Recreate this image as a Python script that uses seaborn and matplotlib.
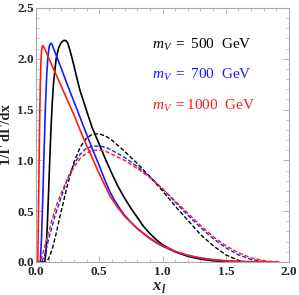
"""Lepton energy spectrum 1/Γ dΓ/dx for three vector masses."""

import matplotlib
matplotlib.use("Agg")
import matplotlib.pyplot as plt
import numpy as np
import pandas as pd
import seaborn as sns
from matplotlib.ticker import MultipleLocator

# solid curves
x_solid_500 = [0.0, 0.07, 0.08, 0.09, 0.10, 0.11, 0.12, 0.13, 0.14, 0.16, 0.18, 0.20, 0.22, 0.235,
               0.25, 0.27, 0.295, 0.32, 0.348, 0.40, 0.445, 0.50, 0.55, 0.60, 0.65, 0.70, 0.75,
               0.80, 0.85, 0.90, 0.95, 1.00, 1.10, 1.20, 1.30, 1.40, 1.50, 1.60, 1.65]
y_solid_500 = [0.0, 0.0, 0.10, 0.35, 0.68, 1.02, 1.33, 1.58, 1.77, 2.00, 2.11, 2.16, 2.18, 2.18,
               2.16, 2.08, 1.96, 1.83, 1.69, 1.49, 1.32, 1.16, 1.01, 0.87, 0.74, 0.63, 0.53,
               0.44, 0.35, 0.28, 0.22, 0.17, 0.10, 0.055, 0.028, 0.012, 0.004, 0.001, 0.0]

x_solid_700 = [0.0, 0.035, 0.045, 0.055, 0.065, 0.075, 0.085, 0.095, 0.105, 0.115, 0.125, 0.14,
               0.19, 0.25, 0.30, 0.35, 0.387, 0.45, 0.50, 0.55, 0.585, 0.62, 0.66, 0.70, 0.75,
               0.80, 0.85, 0.90, 0.95, 1.00, 1.10, 1.20, 1.30, 1.40, 1.50, 1.60, 1.70, 1.80]
y_solid_700 = [0.0, 0.0, 0.25, 0.65, 1.10, 1.52, 1.83, 2.02, 2.12, 2.15, 2.15, 2.10,
               1.94, 1.74, 1.58, 1.42, 1.30, 1.10, 0.95, 0.79, 0.69, 0.61, 0.53, 0.46, 0.39,
               0.33, 0.28, 0.23, 0.19, 0.155, 0.10, 0.062, 0.036, 0.019, 0.009, 0.004, 0.001, 0.0]

x_solid_1000 = [0.0, 0.015, 0.02, 0.025, 0.03, 0.035, 0.04, 0.045, 0.05, 0.055, 0.065, 0.10,
                0.15, 0.19, 0.25, 0.30, 0.348, 0.40, 0.45, 0.50, 0.55, 0.585, 0.638, 0.70,
                0.75, 0.80, 0.85, 0.90, 0.95, 1.00, 1.10, 1.20, 1.30, 1.40, 1.50, 1.60, 1.70,
                1.80, 1.92]
y_solid_1000 = [0.0, 0.0, 0.45, 0.95, 1.40, 1.75, 1.97, 2.08, 2.12, 2.13, 2.11, 2.01,
                1.87, 1.76, 1.59, 1.45, 1.30, 1.15, 1.01, 0.87, 0.74, 0.65, 0.55, 0.45,
                0.39, 0.33, 0.28, 0.235, 0.195, 0.16, 0.105, 0.066, 0.040, 0.023, 0.012, 0.006,
                0.002, 0.0005, 0.0]

# dashed curves
x_dash_500 = [0.0, 0.08, 0.10, 0.13, 0.16, 0.20, 0.25, 0.30, 0.35, 0.40, 0.45, 0.50, 0.55,
              0.60, 0.70, 0.80, 0.90, 1.00, 1.10, 1.20, 1.30, 1.40, 1.50, 1.60, 1.65]
y_dash_500 = [0.0, 0.0, 0.03, 0.13, 0.28, 0.50, 0.76, 0.98, 1.13, 1.22, 1.26, 1.26, 1.24,
              1.20, 1.09, 0.97, 0.84, 0.70, 0.55, 0.41, 0.27, 0.16, 0.07, 0.015, 0.0]

x_dash_700 = [0.0, 0.045, 0.07, 0.10, 0.15, 0.20, 0.25, 0.30, 0.35, 0.40, 0.45, 0.50, 0.55,
              0.60, 0.70, 0.80, 0.90, 1.00, 1.10, 1.20, 1.30, 1.40, 1.50, 1.60, 1.70, 1.80, 1.85]
y_dash_700 = [0.0, 0.0, 0.07, 0.22, 0.45, 0.64, 0.82, 0.96, 1.06, 1.12, 1.14, 1.14, 1.13,
              1.10, 1.03, 0.94, 0.84, 0.72, 0.59, 0.46, 0.34, 0.23, 0.14, 0.07, 0.025, 0.005, 0.0]

x_dash_1000 = [0.0, 0.03, 0.05, 0.08, 0.12, 0.16, 0.20, 0.25, 0.30, 0.35, 0.40, 0.45, 0.50,
               0.55, 0.60, 0.70, 0.80, 0.90, 1.00, 1.10, 1.20, 1.30, 1.40, 1.50, 1.60, 1.70,
               1.80, 1.90]
y_dash_1000 = [0.0, 0.0, 0.06, 0.20, 0.38, 0.55, 0.68, 0.82, 0.93, 1.02, 1.07, 1.10, 1.10,
               1.09, 1.06, 1.00, 0.92, 0.83, 0.72, 0.60, 0.48, 0.36, 0.25, 0.16, 0.09, 0.04,
               0.012, 0.0]

masses = ["500", "700", "1000"]
colors = {"500": "black", "700": "#1a1aff", "1000": "#ff1a1a"}

solid = {"500": (x_solid_500, y_solid_500), "700": (x_solid_700, y_solid_700),
         "1000": (x_solid_1000, y_solid_1000)}
dashed = {"500": (x_dash_500, y_dash_500), "700": (x_dash_700, y_dash_700),
          "1000": (x_dash_1000, y_dash_1000)}

sns.set_style("ticks")
plt.rcParams["font.family"] = ["Liberation Serif", "DejaVu Serif"]
plt.rcParams["mathtext.fontset"] = "custom"
plt.rcParams["mathtext.rm"] = "Liberation Serif"
plt.rcParams["mathtext.it"] = "Liberation Serif:italic"
plt.rcParams["mathtext.bf"] = "Liberation Serif:bold"

fig = plt.figure(figsize=(2.99, 2.95), dpi=100)
ax = fig.add_axes([0.120, 0.112, 0.847, 0.861])

for m in masses:
    xs, ys = solid[m]
    sns.lineplot(x=xs, y=ys, ax=ax, color=colors[m], lw=1.2, sort=False,
                 estimator=None)
    xd, yd = dashed[m]
    sns.lineplot(x=xd, y=yd, ax=ax, color=colors[m], lw=1.0, sort=False,
                 estimator=None, linestyle=(0, (3, 1.5)))

ax.set_xlim(0, 2.0)
ax.set_ylim(0, 2.5)
ax.xaxis.set_major_locator(MultipleLocator(0.5))
ax.xaxis.set_minor_locator(MultipleLocator(0.1))
ax.yaxis.set_major_locator(MultipleLocator(0.5))
ax.yaxis.set_minor_locator(MultipleLocator(0.1))
ax.tick_params(which="both", direction="in", top=True, right=True, color="#aaaaaa",
               labelsize=9.5)
ax.tick_params(axis="x", pad=3)
ax.tick_params(axis="y", pad=1.5)
ax.tick_params(which="major", length=4, width=0.6)
ax.tick_params(which="minor", length=2, width=0.5)
for lab in ax.get_xticklabels() + ax.get_yticklabels():
    lab.set_fontweight("bold")
for s in ax.spines.values():
    s.set_color("#aaaaaa")
    s.set_linewidth(0.8)

# x_l label: bold italic x with a smaller bold italic subscript l
ax.set_xlabel("")
fig.text(0.538, 0.017, "x", fontsize=12, fontweight="bold", fontstyle="italic",
         ha="right", va="baseline")
fig.text(0.540, 0.006, "l", fontsize=8.5, fontweight="bold", fontstyle="italic",
         ha="left", va="baseline")
ax.set_ylabel("1/Γ dΓ/dx", fontsize=10.5, fontweight="bold", labelpad=3)

for i, m in enumerate(masses):
    gap = r"$=$ " if m != "1000" else r"$=$"
    ax.text(0.915, 2.10 - i * 0.30, r"$m_V$ " + gap + f"{m}  GeV", color=colors[m],
            fontsize=11)

fig.savefig("out.png", dpi=100)
